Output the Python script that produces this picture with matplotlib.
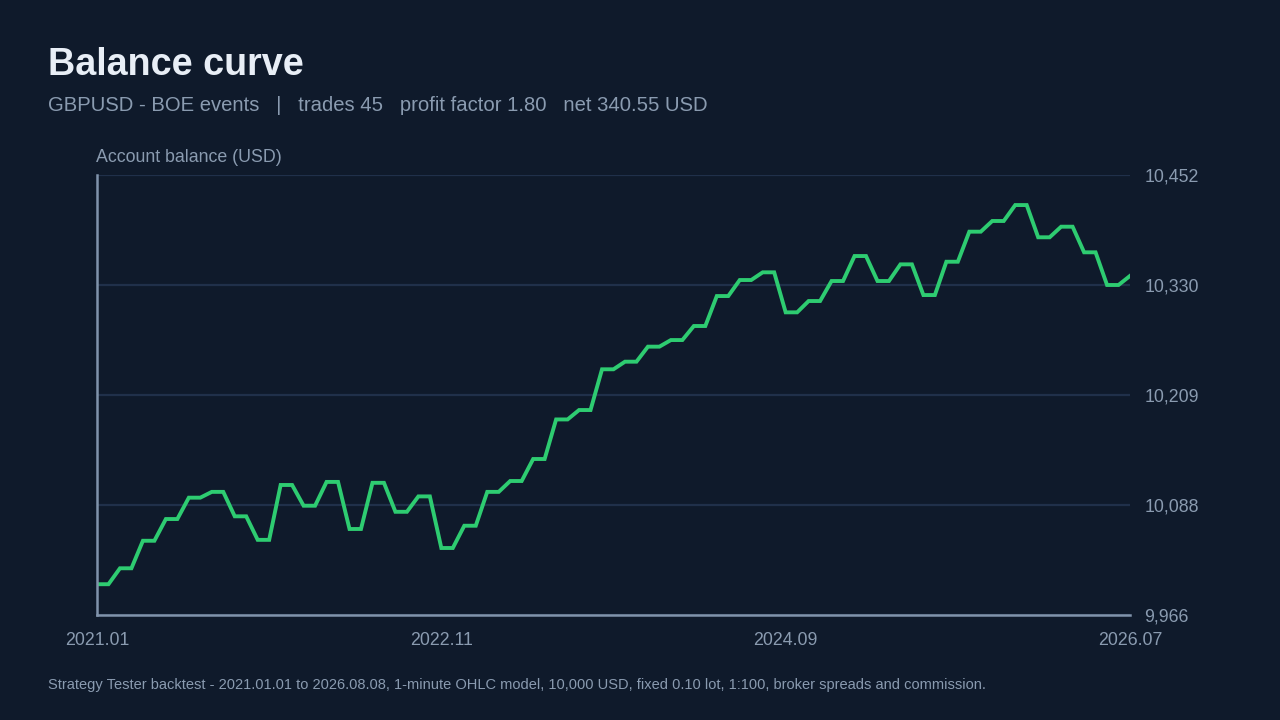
import matplotlib
matplotlib.use("Agg")
import matplotlib.pyplot as plt
import matplotlib.ticker as ticker

# Balance after each closed trade (index 0 = starting deposit)
balances = [10000.00, 10017.6, 10048.0, 10072.0, 10095.6, 10102.0, 10075.0, 10049.0,
            10109.6, 10086.7, 10113.0, 10061.0, 10112.0, 10080.0, 10097.0, 10040.0,
            10064.6, 10102.0, 10114.0, 10138.3, 10182.0, 10192.4, 10237.4, 10245.8,
            10262.4, 10269.7, 10285.2, 10318.3, 10336.0, 10344.5, 10300.3, 10312.8,
            10334.9, 10362.5, 10334.9, 10353.3, 10319.4, 10356.2, 10389.4, 10401.2,
            10418.8, 10383.2, 10394.9, 10366.6, 10330.5, 10340.55]
date_labels = ["2021.01", "2022.11", "2024.09", "2026.07"]
y_limits = (9966, 10452)

title = "Balance curve"
subtitle = "GBPUSD - BOE events   |   trades 45   profit factor 1.80   net 340.55 USD"
ylabel = "Account balance (USD)"
footer = ("Strategy Tester backtest - 2021.01.01 to 2026.08.08, 1-minute OHLC model, "
          "10,000 USD, fixed 0.10 lot, 1:100, broker spreads and commission.")

BG = "#0f1a2b"
GREEN = "#2ecc71"
GRID = "#20304a"
SPINE = "#8093ab"
MUTED = "#8a9bb0"
TITLE = "#e8eef6"

plt.rcParams["font.family"] = ["Liberation Sans", "DejaVu Sans"]

# each trade: flat while open, then a ramp to the new balance on close
xs, ys = [], []
for i in range(len(balances) - 1):
    xs += [2 * i, 2 * i + 1]
    ys += [balances[i], balances[i]]
xs.append(2 * (len(balances) - 1))
ys.append(balances[-1])

fig = plt.figure(figsize=(12.8, 7.2), dpi=100, facecolor=BG)
ax = fig.add_axes([97 / 1280, 105 / 720, 1033 / 1280, 440 / 720])
ax.set_facecolor(BG)

ax.plot(xs, ys, color=GREEN, lw=2.8, solid_joinstyle="miter", zorder=3)

ax.set_xlim(xs[0], xs[-1])
ax.set_ylim(*y_limits)

yt = [y_limits[0] + k * (y_limits[1] - y_limits[0]) / 4 for k in range(5)]
ax.set_yticks(yt)
ax.yaxis.set_major_formatter(ticker.FuncFormatter(lambda v, p: f"{v:,.0f}"))
ax.yaxis.tick_right()
ax.grid(axis="y", color=GRID, lw=1.6, zorder=0)
ax.set_xticks([xs[-1] * k / 3 for k in range(4)])
ax.set_xticklabels(date_labels)

ax.tick_params(axis="y", length=0, pad=10.5, labelsize=12.8, labelcolor=MUTED)
ax.tick_params(axis="x", length=0, pad=12, labelsize=12.8, labelcolor=MUTED)

for side in ["top", "right"]:
    ax.spines[side].set_visible(False)
for side in ["left", "bottom"]:
    ax.spines[side].set_color(SPINE)
    ax.spines[side].set_linewidth(1.8)
    ax.spines[side].set_zorder(4)

fig.text(48 / 1280, 1 - 75 / 720, title, color=TITLE, fontsize=27.2,
         fontweight="bold", va="baseline", ha="left")
fig.text(48 / 1280, 1 - 111 / 720, subtitle, color=MUTED, fontsize=14.55,
         va="baseline", ha="left")
fig.text(96 / 1280, 1 - 161.5 / 720, ylabel, color=MUTED, fontsize=12.8,
         va="baseline", ha="left")
fig.text(48 / 1280, 1 - 688.5 / 720, footer, color=MUTED, fontsize=10.5,
         va="baseline", ha="left")

fig.savefig("out.png", dpi=100, facecolor=BG)
